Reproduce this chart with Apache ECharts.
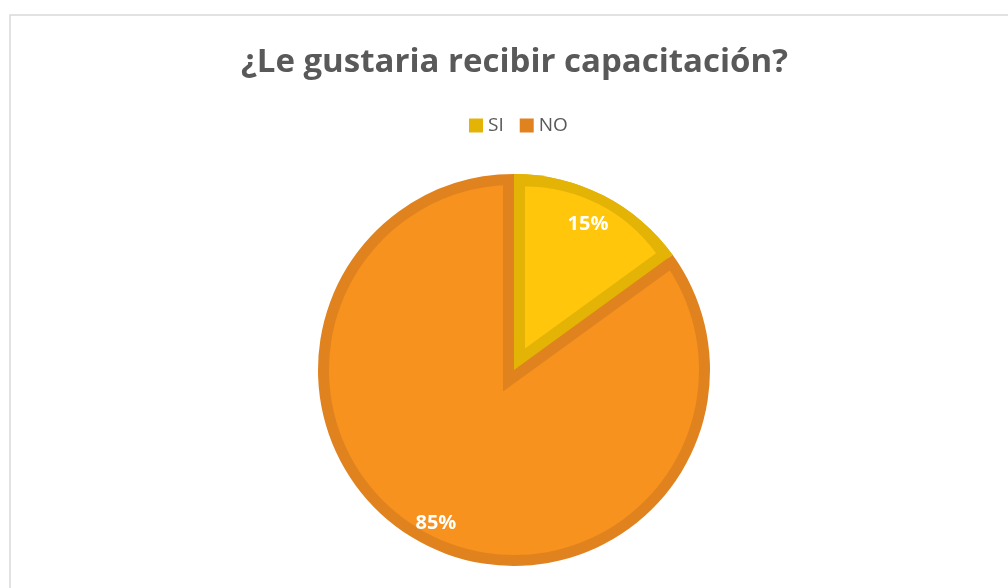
<!DOCTYPE html>
<html><head><meta charset="utf-8">
<script src="https://cdn.jsdelivr.net/npm/echarts@6/dist/echarts.min.js"></script>
<style>html,body{margin:0;padding:0;background:#fff}#c{width:1008px;height:588px}</style>
</head><body><div id="c"></div>
<script>
const titleText = '¿Le gustaria recibir capacitación?';
const categories = ['SI', 'NO'];
const values = [15, 85];
const fillColors = ['#FFC60B', '#F7921E'];
const edgeColors = ['#E3B406', '#E0831F'];

const C = [514, 370];
const R = 196;
const d = 11;
const total = values.reduce((a, b) => a + b, 0);
const half = Math.PI * values[0] / total;
const s = d / Math.sin(half);
const u = [Math.sin(half), -Math.cos(half)];
const T = 'rgba(0,0,0,0)';

function layer(center, radius, colors, z, extra) {
  return Object.assign({
    type: 'pie', center: center, radius: radius, startAngle: 90, clockwise: true,
    silent: true, animation: false, z: z,
    label: { show: false }, labelLine: { show: false },
    emphasis: { disabled: true },
    data: categories.map((n, i) => ({ name: n, value: values[i],
      itemStyle: { color: colors[i], borderWidth: 0 } }))
  }, extra || {});
}
function labelLayer(radius, which, z) {
  return layer(C, radius, [T, T], z, {
    label: { show: true, position: 'inside', color: '#fff',
      formatter: p => (p.name === which ? p.percent + '%' : ''),
      fontFamily: 'Open Sans', fontWeight: 'bold', fontSize: 20 }
  });
}

const chart = echarts.init(document.getElementById('c'), null, { renderer: 'canvas' });
chart.setOption({
  backgroundColor: '#fff',
  animation: false,
  title: {
    text: titleText, left: 236, top: 41,
    textStyle: { fontFamily: 'Open Sans', fontWeight: 'bold', fontSize: 33, color: '#595959' }
  },
  legend: {
    top: 111, left: 464, icon: 'rect', itemWidth: 14, itemHeight: 14, itemGap: 16,
    selectedMode: false,
    textStyle: { fontFamily: 'Open Sans', fontSize: 19, color: '#595959' },
    data: categories.map((n, i) => ({ name: n, itemStyle: { color: edgeColors[i] } }))
  },
  graphic: [{
    type: 'rect', shape: { x: 10, y: 15, width: 1200, height: 800 },
    style: { fill: null, stroke: '#D9D9D9', lineWidth: 1.5 }, z: 100
  }],
  series: [
    layer(C, R, edgeColors, 1),
    layer(C, R - d, [edgeColors[0], fillColors[1]], 2),
    layer([C[0] - s * u[0], C[1] - s * u[1]], 212, [edgeColors[1], T], 3),
    layer(C, R, [edgeColors[0], T], 4),
    layer([C[0] + s * u[0], C[1] + s * u[1]], 162, [fillColors[0], T], 5),
    labelLayer([120, 200], 'SI', 6),
    labelLayer([134, 204], 'NO', 7)
  ]
});
</script></body></html>
